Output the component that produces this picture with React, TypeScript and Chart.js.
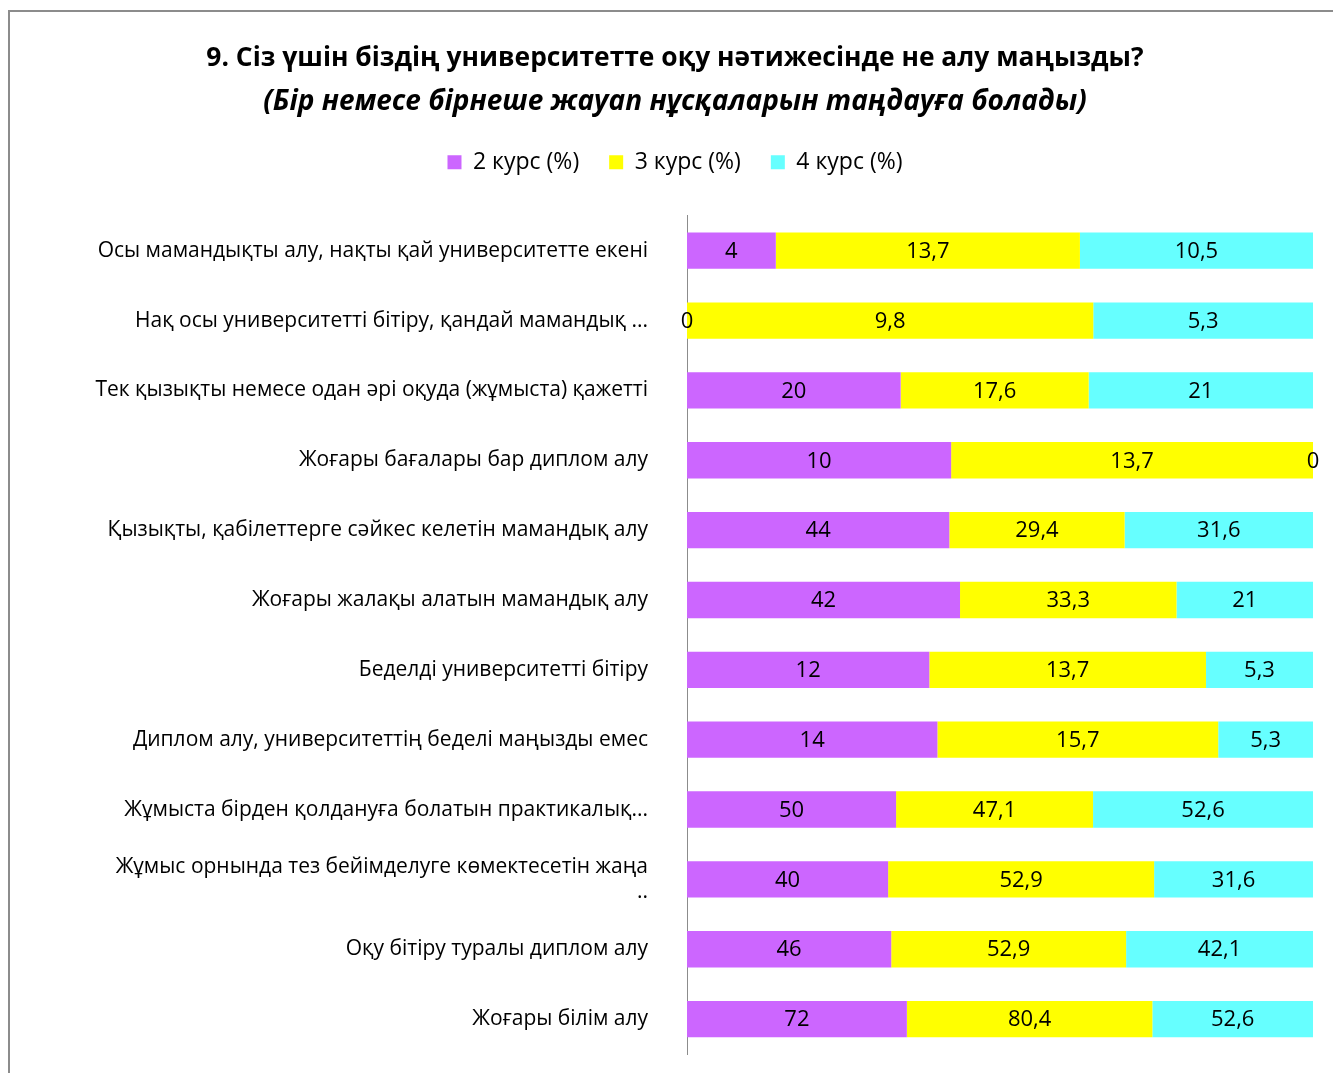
import React, { useEffect, useRef } from "react";
import { Chart, registerables, layouts } from "chart.js";

Chart.register(...registerables);

const categories: (string | string[])[] = [
  "Осы мамандықты алу, нақты қай университетте екені",
  "Нақ осы университетті бітіру, қандай мамандық ...",
  "Тек қызықты немесе одан әрі оқуда (жұмыста) қажетті",
  "Жоғары бағалары бар диплом алу",
  "Қызықты, қабілеттерге сәйкес келетін мамандық алу",
  "Жоғары жалақы алатын мамандық алу",
  "Беделді университетті бітіру",
  "Диплом алу, университеттің беделі маңызды емес",
  "Жұмыста бірден қолдануға болатын практикалық...",
  ["Жұмыс орнында тез бейімделуге көмектесетін жаңа", ".."],
  "Оқу бітіру туралы диплом алу",
  "Жоғары білім алу",
];

const course2 = [4, 0, 20, 10, 44, 42, 12, 14, 50, 40, 46, 72];
const course3 = [13.7, 9.8, 17.6, 13.7, 29.4, 33.3, 13.7, 15.7, 47.1, 52.9, 52.9, 80.4];
const course4 = [10.5, 5.3, 21, 0, 31.6, 21, 5.3, 5.3, 52.6, 31.6, 42.1, 52.6];

const seriesNames = ["2 курс (%)", "3 курс (%)", "4 курс (%)"];
const seriesColors = ["#CC66FF", "#FFFF00", "#66FFFF"];

const titleText = "9. Сіз үшін біздің университетте оқу нәтижесінде не алу маңызды?";
const subtitleText = "(Бір немесе бірнеше жауап нұсқаларын таңдауға болады)";

const FONT = "'Open Sans', 'Noto Sans', sans-serif";

export default function App() {
  const ref = useRef<HTMLCanvasElement | null>(null);

  useEffect(() => {
    const raw = [course2, course3, course4];
    const totals = categories.map((_, i) => raw.reduce((s, arr) => s + arr[i], 0));
    const datasets = raw.map((arr, k) => ({
      label: seriesNames[k],
      data: arr.map((v, i) => (totals[i] ? (v / totals[i]) * 100 : 0)),
      rawValues: arr,
      backgroundColor: seriesColors[k],
      borderWidth: 0,
      barPercentage: 0.52,
      categoryPercentage: 1,
    }));

    const labelPlugin = {
      id: "segLabels",
      afterDatasetsDraw(chart: any) {
        const ctx = chart.ctx;
        ctx.save();
        ctx.font = `22px ${FONT}`;
        ctx.fillStyle = "#000";
        ctx.textAlign = "center";
        ctx.textBaseline = "middle";
        chart.data.datasets.forEach((ds: any, di: number) => {
          const meta = chart.getDatasetMeta(di);
          meta.data.forEach((el: any, i: number) => {
            const v = ds.rawValues[i];
            const cx = (el.x + el.base) / 2;
            ctx.fillText(String(v).replace(".", ","), cx, el.y + 1);
          });
        });
        ctx.restore();
      },
    };

    const spacerPlugin = {
      id: "legendSpacer",
      beforeInit(chart: any) {
        const spacer: any = {
          position: "top",
          weight: 1,
          fullSize: true,
          options: {},
          top: 0,
          left: 0,
          right: 0,
          bottom: 0,
          width: 0,
          height: 0,
          isHorizontal() {
            return true;
          },
          update(maxWidth: number) {
            this.width = maxWidth;
            this.height = 32;
          },
          draw() {},
        };
        layouts.addBox(chart, spacer);
      },
    };

    const chart = new Chart(ref.current as HTMLCanvasElement, {
      type: "bar",
      data: { labels: categories as any, datasets: datasets as any },
      options: {
        indexAxis: "y",
        animation: false,
        responsive: false,
        maintainAspectRatio: false,
        layout: { padding: { top: 0, right: 37, bottom: 19, left: 37 } },
        scales: {
          x: {
            stacked: true,
            min: 0,
            max: 100,
            display: false,
          },
          y: {
            stacked: true,
            grid: { display: false, drawTicks: false },
            border: { display: true, color: "#8c8c8c", width: 1 },
            ticks: {
              color: "#000",
              font: { family: FONT, size: 21 },
              padding: 39,
            },
            afterFit(scale: any) {
              scale.width = 650;
              scale.paddingTop = 0;
              scale.paddingBottom = 0;
            },
          },
        },
        plugins: {
          title: {
            display: true,
            text: titleText,
            color: "#000",
            font: { family: FONT, size: 26.4, weight: "bold" },
            padding: { top: 43, bottom: 10.5 },
          },
          subtitle: {
            display: true,
            text: subtitleText,
            color: "#000",
            font: { family: FONT, size: 28, weight: "bold", style: "italic" },
            padding: { top: 0, bottom: 2 },
          },
          legend: {
            display: true,
            position: "top",
            labels: {
              color: "#000",
              font: { family: FONT, size: 23 },
              boxWidth: 14,
              boxHeight: 14,
              padding: 30,
            },
          },
          tooltip: { enabled: false },
        },
      },
      plugins: [labelPlugin, spacerPlugin],
    });
    return () => chart.destroy();
  }, []);

  return (
    <div style={{ position: "fixed", left: 0, top: 0, width: 1333, height: 1073, overflow: "hidden", background: "#fff" }}>
      <div
        style={{
          position: "absolute",
          left: 8,
          top: 10,
          width: 1400,
          height: 1200,
          border: "2px solid #8c8c8c",
          boxSizing: "border-box",
        }}
      />
      <canvas ref={ref} width={1350} height={1073} style={{ position: "absolute", left: 0, top: 0 }} />
    </div>
  );
}
